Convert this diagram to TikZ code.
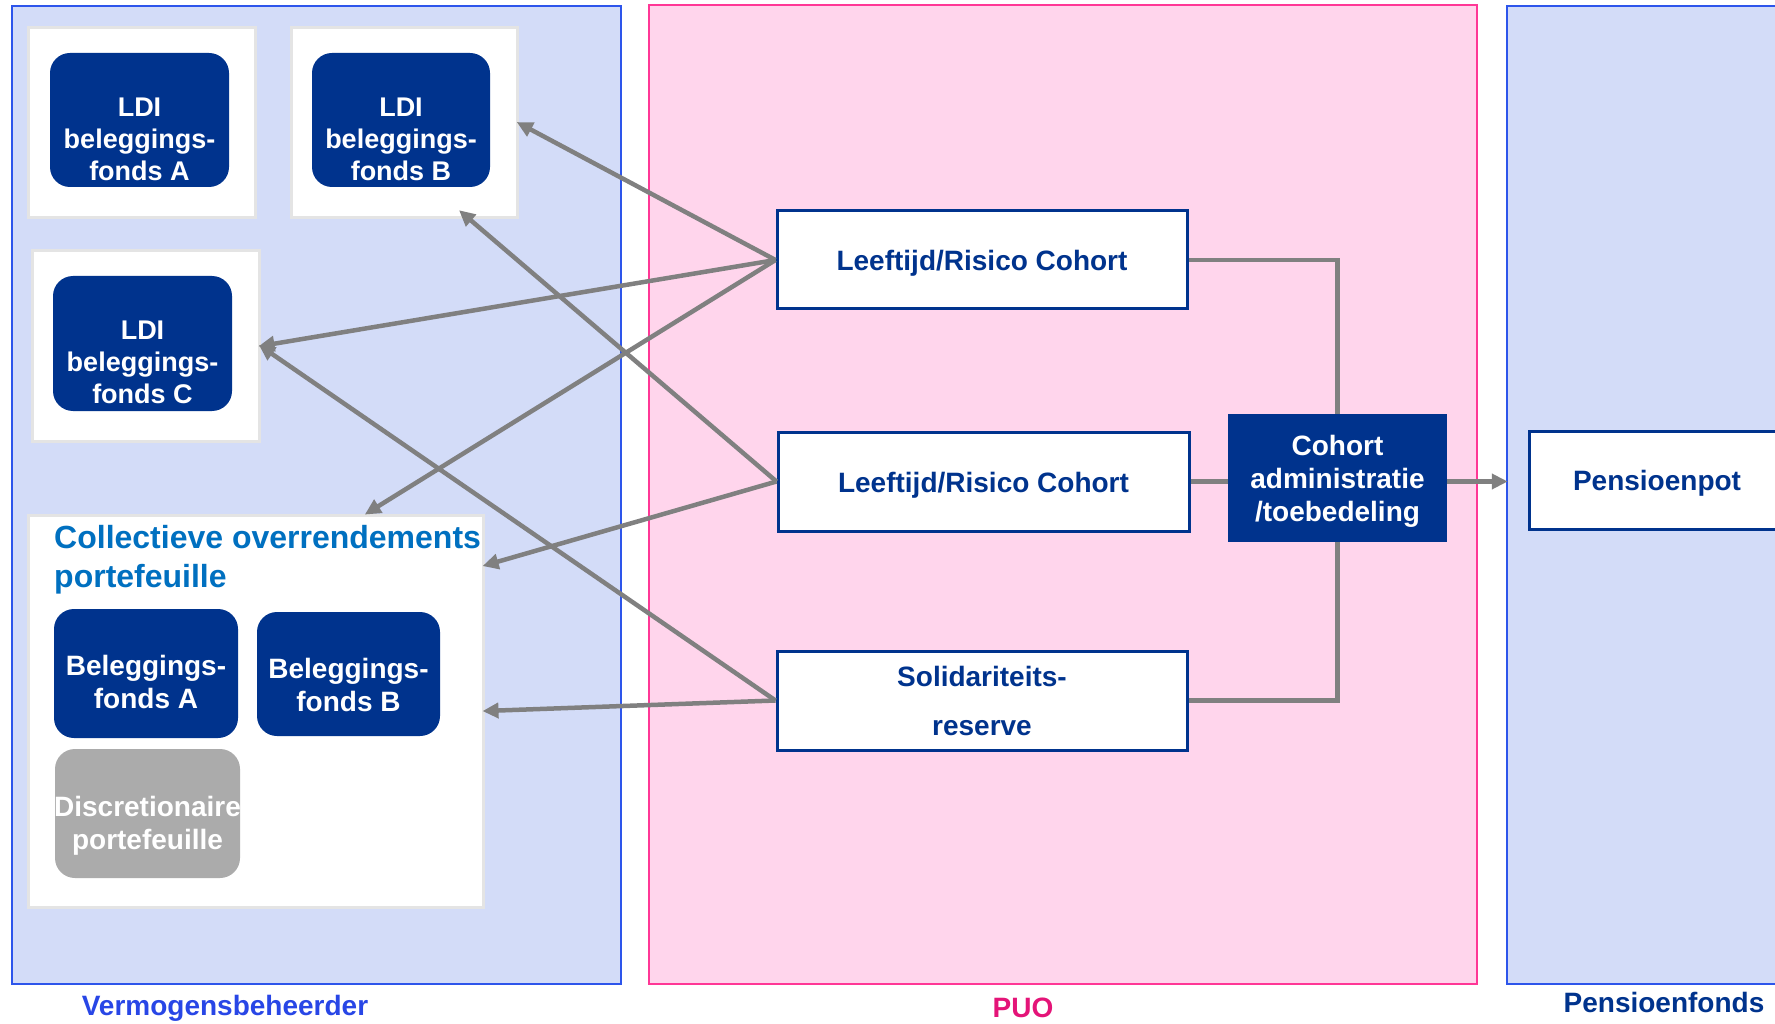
\documentclass[tikz,border=0pt]{standalone}
\usepackage{fontspec}
\setmainfont{Liberation Sans}
\usetikzlibrary{arrows.meta,calc}
\definecolor{navy}{RGB}{0,51,141}
\definecolor{panelblue}{RGB}{211,220,248}
\definecolor{panelline}{RGB}{45,85,235}
\definecolor{puofill}{RGB}{255,213,236}
\definecolor{puoline}{RGB}{255,55,150}
\definecolor{puotext}{RGB}{228,20,120}
\definecolor{linkgray}{RGB}{128,128,128}
\definecolor{framegray}{RGB}{228,228,228}
\definecolor{titleblue}{RGB}{0,112,192}
\definecolor{labelblue}{RGB}{40,70,230}
\definecolor{discgray}{RGB}{171,171,171}
\tikzset{
  panel/.style={draw=panelline, fill=panelblue, line width=2.5pt, inner sep=0pt},
  puopanel/.style={draw=puoline, fill=puofill, line width=2.5pt, inner sep=0pt},
  whitebox/.style={draw=framegray, fill=white, line width=3pt, inner sep=0pt},
  fundbox/.style={fill=navy, rounded corners=20pt, inner sep=0pt},
  cohortbox/.style={draw=navy, fill=white, line width=3pt, inner sep=0pt},
  adminbox/.style={fill=navy, inner sep=0pt},
  boxtext/.style={align=center, inner sep=0pt, font=\bfseries\fontsize{28}{33}\selectfont},
  fundtext/.style={boxtext, text=white},
  ldtext/.style={fundtext, font=\bfseries\fontsize{27}{32}\selectfont},
  navytext/.style={boxtext, text=navy},
  link/.style={draw=linkgray, line width=4.5pt},
  arrowlink/.style={link, -{Triangle[length=16pt,width=15pt]}, shorten >=-2pt},
  panellabel/.style={font=\bfseries\fontsize{28}{33}\selectfont, inner sep=0pt}
}
\begin{document}
\begin{tikzpicture}[x=1pt,y=-1pt]
\useasboundingbox (0,0) rectangle (1775,1024);
\clip (0,0) rectangle (1775,1024);

% three column panels
\node[panel, minimum width=609pt, minimum height=978pt] (vb) at (316.5,495) {};
\node[puopanel, minimum width=828pt, minimum height=979pt] (puo) at (1063,494.5) {};
\node[panel, minimum width=293pt, minimum height=978pt] (pf) at (1653.5,495) {};

\node[panellabel, text=labelblue] (vblabel) at (225,1008) {Vermogensbeheerder};
\node[panellabel, text=puotext] (puolabel) at (1023,1008) {PUO};
\node[panellabel, text=navy] (pflabel) at (1664,1002) {Pensioenfonds};

% LDI funds
\node[whitebox, minimum width=227pt, minimum height=190pt] (wA) at (141.5,123) {};
\node[fundbox, minimum width=179pt, minimum height=134pt] (ldiA) at (139.5,120) {};
\node[ldtext] (ldiAtxt) at ([yshift=-19pt]ldiA.center) {LDI\\beleggings-\\fonds A};
\node[whitebox, minimum width=226pt, minimum height=190pt] (wB) at (404,123) {};
\node[fundbox, minimum width=178pt, minimum height=134pt] (ldiB) at (401,120) {};
\node[ldtext] (ldiBtxt) at ([yshift=-19pt]ldiB.center) {LDI\\beleggings-\\fonds B};
\node[whitebox, minimum width=227pt, minimum height=190pt] (wC) at (145.5,346) {};
\node[fundbox, minimum width=179pt, minimum height=135pt] (ldiC) at (142.5,343.5) {};
\node[ldtext] (ldiCtxt) at ([yshift=-19pt]ldiC.center) {LDI\\beleggings-\\fonds C};

% collective excess-return portfolio
\node[whitebox, minimum width=455pt, minimum height=392pt] (coll) at (255.5,711) {};
\node[anchor=west, text=titleblue, align=left, inner sep=0pt,
  font=\bfseries\fontsize{32}{38.5}\selectfont] (colltitle) at (54,559.5)
  {Collectieve overrendements\\portefeuille};
\node[fundbox, minimum width=184pt, minimum height=129pt] (bfA) at (146,673.5) {};
\node[fundtext] (bfAtxt) at ([yshift=-8pt]bfA.center) {Beleggings-\\fonds A};
\node[fundbox, minimum width=183pt, minimum height=124pt] (bfB) at (348.5,674) {};
\node[fundtext] (bfBtxt) at ([yshift=-11pt]bfB.center) {Beleggings-\\fonds B};
\node[fundbox, fill=discgray, minimum width=185pt, minimum height=129pt] (disc) at (147.5,813.5) {};
\node[fundtext] (disctxt) at ([yshift=-12pt]disc.center) {Discretionaire\\portefeuille};

% PUO cohorts
\node[cohortbox, minimum width=410pt, minimum height=98pt] (coh1) at (982,260) {};
\node[navytext] (coh1txt) at ([yshift=-3.5pt]coh1.center) {Leeftijd/Risico Cohort};
\node[cohortbox, minimum width=411pt, minimum height=99pt] (coh2) at (983.5,481.5) {};
\node[navytext] (coh2txt) at ([yshift=-3.5pt]coh2.center) {Leeftijd/Risico Cohort};
\node[cohortbox, minimum width=410pt, minimum height=99pt] (sol) at (982,700.5) {};
\node[navytext, font=\bfseries\fontsize{28}{49}\selectfont] (soltxt) at (sol.center) {Solidariteits-\\reserve};
\node[adminbox, minimum width=219pt, minimum height=128pt] (admin) at (1337.5,478) {};
\node[fundtext] (admintxt) at ([yshift=-3.5pt]admin.center) {Cohort\\administratie\\/toebedeling};

% pension fund
\node[cohortbox, minimum width=256pt, minimum height=98pt] (pot) at (1657,480) {};
\node[navytext] (pottxt) at ([yshift=-3.5pt]pot.center) {Pensioenpot};

% cohort administration links
\draw[link] (coh1.east) -| (admin.north);
\draw[link] (coh2.east) -- (coh2.east -| admin.west);
\draw[link] (sol.east) -| (admin.south);
\draw[arrowlink] (coh2.east -| admin.east) -- (coh2.east -| pf.west);

% allocation arrows towards the funds
\coordinate (collTop) at ([xshift=340pt]coll.north west);
\coordinate (collUpper) at ([yshift=-52pt]coll.north east);
\coordinate (wBbottom) at ([xshift=171pt,yshift=8pt]wB.south west);
\draw[arrowlink] (coh1.west) -- (wB.east);
\draw[arrowlink] (coh1.west) -- (wC.east);
\draw[arrowlink] (coh1.west) -- (collTop);
\draw[arrowlink] (coh2.west) -- (wBbottom);
\draw[arrowlink] (coh2.west) -- (collUpper);
\draw[arrowlink] (sol.west) -- (wC.east);
\draw[arrowlink] (sol.west) -- (coll.east);
\end{tikzpicture}
\end{document}
